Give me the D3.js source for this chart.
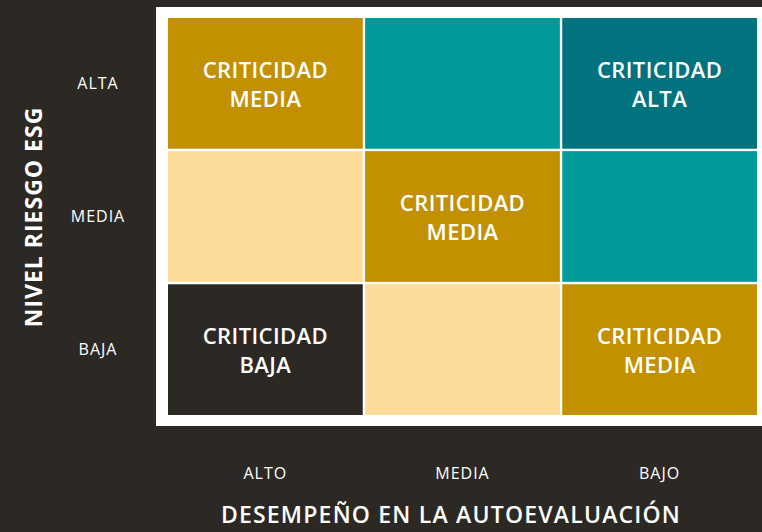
<!DOCTYPE html>
<html>
<head>
<meta charset="utf-8">
<script src="https://cdn.jsdelivr.net/npm/d3@7"></script>
<style>
  html, body { margin: 0; padding: 0; background: #2c2925; }
  svg { display: block; font-family: 'Open Sans', 'Noto Sans', sans-serif; }
</style>
</head>
<body>
<div id="chart"></div>
<script>
// ejes
const desempeno = ['ALTO', 'MEDIA', 'BAJO'];
const riesgo = ['ALTA', 'MEDIA', 'BAJA'];

// matriz de criticidad (fila = riesgo, columna = desempeño)
const niveles = [
  ['media', 'mediaAlta', 'alta'],
  ['baja2', 'media', 'mediaAlta'],
  ['baja', 'baja2', 'media']
];
const etiquetas = {
  media: ['CRITICIDAD', 'MEDIA'],
  alta: ['CRITICIDAD', 'ALTA'],
  baja: ['CRITICIDAD', 'BAJA'],
  mediaAlta: [],
  baja2: []
};
const colores = {
  media: '#c29000',
  mediaAlta: '#009a9a',
  alta: '#00737f',
  baja2: '#fddb9b',
  baja: '#2c2925'
};

const width = 762;
const height = 532;

const svg = d3.select('#chart')
  .append('svg')
  .attr('width', width)
  .attr('height', height);

svg.append('rect')
  .attr('width', width)
  .attr('height', height)
  .attr('fill', '#2c2925');

// panel blanco
svg.append('rect')
  .attr('x', 156)
  .attr('y', 7)
  .attr('width', width - 156)
  .attr('height', 419)
  .attr('fill', '#ffffff');

const x = d3.scaleBand()
  .domain(desempeno)
  .range([168, 757])
  .paddingInner(0.012);

const y = d3.scaleBand()
  .domain(riesgo)
  .range([18, 415])
  .paddingInner(0.018);

const cells = [];
riesgo.forEach((r, i) => {
  desempeno.forEach((d, j) => {
    cells.push({ fila: r, col: d, nivel: niveles[i][j] });
  });
});

const cell = svg.append('g')
  .selectAll('g')
  .data(cells)
  .join('g')
  .attr('transform', (d) => `translate(${x(d.col)},${y(d.fila)})`);

cell.append('rect')
  .attr('width', x.bandwidth())
  .attr('height', y.bandwidth())
  .attr('fill', (d) => colores[d.nivel]);

cell.append('text')
  .attr('x', x.bandwidth() / 2)
  .attr('y', y.bandwidth() / 2 - 3)
  .attr('text-anchor', 'middle')
  .attr('fill', '#ffffff')
  .attr('font-size', '22px')
  .attr('font-weight', 600)
  .attr('letter-spacing', '0.4px')
  .selectAll('tspan')
  .data((d) => etiquetas[d.nivel])
  .join('tspan')
  .attr('x', x.bandwidth() / 2)
  .attr('dy', (t, i) => (i === 0 ? '-0.1em' : '1.32em'))
  .text((t) => t);

// etiquetas de ejes
svg.append('g')
  .selectAll('text')
  .data(riesgo)
  .join('text')
  .attr('x', 98)
  .attr('y', (d) => y(d) + y.bandwidth() / 2)
  .attr('dy', '0.35em')
  .attr('text-anchor', 'middle')
  .attr('fill', '#ffffff')
  .attr('font-size', '16px')
  .attr('letter-spacing', '1px')
  .text((d) => d);

svg.append('g')
  .selectAll('text')
  .data(desempeno)
  .join('text')
  .attr('x', (d) => x(d) + x.bandwidth() / 2)
  .attr('y', 473)
  .attr('dy', '0.35em')
  .attr('text-anchor', 'middle')
  .attr('fill', '#ffffff')
  .attr('font-size', '16px')
  .attr('letter-spacing', '1px')
  .text((d) => d);

svg.append('text')
  .attr('transform', 'translate(34,217) rotate(-90)')
  .attr('dy', '0.35em')
  .attr('text-anchor', 'middle')
  .attr('fill', '#ffffff')
  .attr('font-size', '23px')
  .attr('font-weight', 700)
  .attr('letter-spacing', '1px')
  .text('NIVEL RIESGO ESG');

svg.append('text')
  .attr('x', 451)
  .attr('y', 523)
  .attr('text-anchor', 'middle')
  .attr('fill', '#ffffff')
  .attr('font-size', '23px')
  .attr('font-weight', 600)
  .attr('letter-spacing', '1.2px')
  .text('DESEMPEÑO EN LA AUTOEVALUACIÓN');
</script>
</body>
</html>
